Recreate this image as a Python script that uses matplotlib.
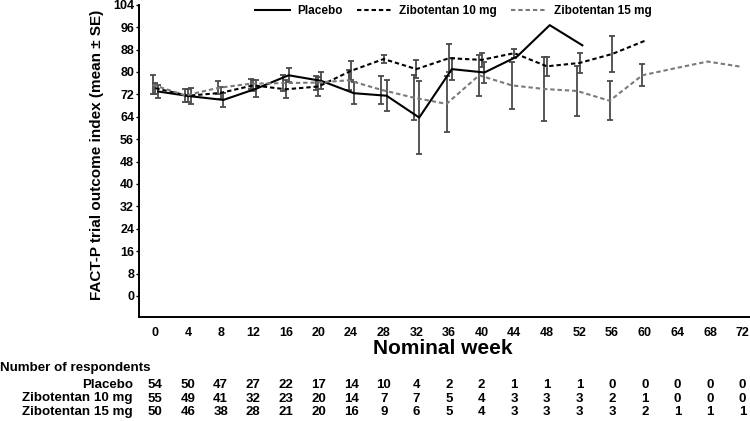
import numpy as np
import matplotlib
matplotlib.use("Agg")
import matplotlib.pyplot as plt
import matplotlib.transforms as mtransforms

plt.rcParams['font.family'] = ['Liberation Sans', 'DejaVu Sans']

# ---------------- data ----------------
weeks = list(range(0, 73, 4))
series_names = ["Placebo", "Zibotentan 10 mg", "Zibotentan 15 mg"]

placebo_mean = [73.0, 71.3, 70.0, 74.0, 78.8, 76.8, 72.4, 71.5, 63.7, 81.0, 79.8, 85.5, 96.7, 89.5]
placebo_se = [2.2, 2.9, 2.6, 3.0, 2.5, 3.0, 4.0, 5.5, 13.0, 4.0, 3.7, None, None, None]

z10_mean = [74.2, 71.5, 72.5, 75.2, 73.8, 74.8, 80.4, 84.6, 81.0, 84.9, 84.3, 86.7, 82.0, 83.2, 86.4, 91.1]
z10_se = [2.0, 2.3, 2.0, 2.0, 3.2, 3.3, 3.4, 1.4, 3.3, 5.0, 2.5, 1.6, 3.3, 3.7, 6.4, None]

z15_mean = [75.4, 71.6, 74.3, 75.8, 76.0, 76.2, 77.0, 73.6, 70.8, 68.6, 78.8, 75.2, 73.9, 73.2,
            69.7, 78.8, 81.3, 83.7, 81.9]
z15_se = [3.4, 2.4, 2.3, 1.8, 2.8, 2.5, 3.6, 4.9, 8.0, 10.0, 7.3, 8.4, 11.5, 8.9, 7.0, 3.9,
          None, None, None]

n_placebo = [54, 50, 47, 27, 22, 17, 14, 10, 4, 2, 2, 1, 1, 1, 0, 0, 0, 0, 0]
n_z10 = [55, 49, 41, 32, 23, 20, 14, 7, 7, 5, 4, 3, 3, 3, 2, 1, 0, 0, 0]
n_z15 = [50, 46, 38, 28, 21, 20, 16, 9, 6, 5, 4, 3, 3, 3, 3, 2, 1, 1, 1]

yticks = list(range(0, 105, 8))

# ---------------- styles ----------------
styles = [
    dict(color="black", lw=1.5, ls="-", offset=0.35),
    dict(color="black", lw=1.5, ls=(0, (2.1, 1.4)), offset=0.0),
    dict(color="#7a7a7a", lw=1.5, ls=(0, (2.1, 1.4)), offset=-0.3),
]
err_color = "#4a4a4a"

fig = plt.figure(figsize=(7.5, 4.21), dpi=100)
W, H = 750, 421
ax = fig.add_axes([139 / W, 1 - 317 / H, (750 - 139) / W, (317 - 4.7) / H])

means = [placebo_mean, z10_mean, z15_mean]
ses = [placebo_se, z10_se, z15_se]

handles = []
for name, m, s, st in zip(series_names, means, ses, styles):
    x = np.array(weeks[:len(m)], dtype=float) + st["offset"]
    y = np.array(m)
    idx = [i for i, v in enumerate(s) if v is not None]
    ax.errorbar(x[idx], y[idx], yerr=[s[i] for i in idx], fmt="none",
                ecolor=err_color, elinewidth=1.3, capsize=2.3, capthick=1.3, zorder=2)
    h, = ax.plot(x, y, color=st["color"], lw=st["lw"], ls=st["ls"], zorder=3, label=name)
    handles.append(h)

ax.set_xlim(-2, 72.9)
ax.set_ylim(-7.5, 104)
ax.set_xticks(weeks)
ax.set_yticks(yticks)
for sp in ["top", "right"]:
    ax.spines[sp].set_visible(False)
for sp in ["left", "bottom"]:
    ax.spines[sp].set_linewidth(1.4)
ax.tick_params(axis="x", length=0, pad=7, labelsize=9)
ax.tick_params(axis="y", length=2, pad=1.5, labelsize=9, width=1)
for lab in ax.get_xticklabels() + ax.get_yticklabels():
    lab.set_fontweight("bold")

ax.set_ylabel("FACT-P trial outcome index (mean \u00b1 SE)", fontsize=11, fontweight="bold")
ax.yaxis.set_label_coords((104 - 139) / 611, (317 - 155) / 312.3)
ax.set_xlabel("Nominal week", fontsize=15, fontweight="bold")
ax.xaxis.set_label_coords((443 - 139) / 611, (317 - 348) / 312.3)
ax.xaxis.label.set_va("center")

leg = fig.legend(handles=handles, loc="center", bbox_to_anchor=(453 / W, 1 - 11 / H),
                 ncol=3, frameon=False, handlelength=3.0, columnspacing=1.2,
                 handletextpad=0.6, prop=dict(weight="bold", size=8.5))

# number of respondents table
trans = mtransforms.blended_transform_factory(ax.transData, fig.transFigure)
fig.text(0, 1 - 368 / H, "Number of respondents", ha="left", va="center",
         fontsize=9.6, fontweight="bold")
rows = [n_placebo, n_z10, n_z15]
row_y = [385, 398.5, 412]
for name, row, yy in zip(series_names, rows, row_y):
    fig.text(133 / W, 1 - yy / H, name, ha="right", va="center", fontsize=9.6, fontweight="bold")
    for wk, n in zip(weeks, row):
        ax.text(wk, 1 - yy / H, str(n), transform=trans, ha="center", va="center",
                fontsize=9.5, fontweight="bold", clip_on=False)

fig.savefig("out.png", dpi=100)
